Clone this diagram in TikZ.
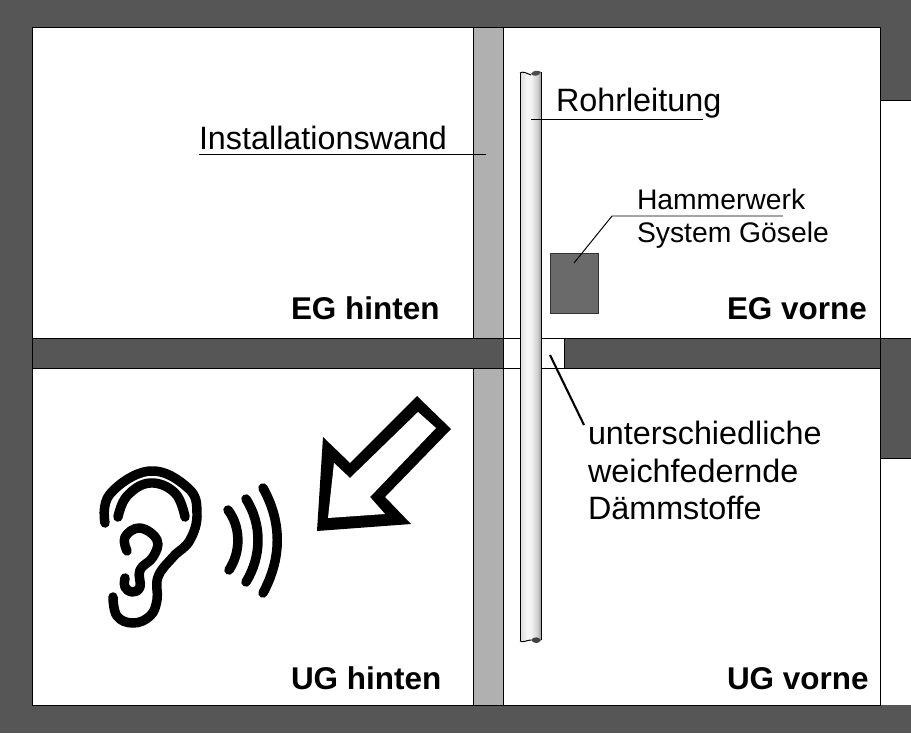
\documentclass[tikz,border=0pt]{standalone}
\usepackage{fontspec}
\setmainfont{Liberation Sans}
\usepackage{amsmath,amssymb}
\definecolor{wallgray}{HTML}{565656}
\definecolor{instgray}{HTML}{B0B0B0}
\definecolor{boxgray}{HTML}{6A6A6A}
\pgfdeclarehorizontalshading{pipeshade}{100bp}{
  color(0bp)=(black!14); color(25bp)=(black!14); color(42bp)=(black!3);
  color(52bp)=(black!5); color(66bp)=(black!18); color(75bp)=(black!38); color(100bp)=(black!38)}
\tikzset{
  wall/.style = {fill=wallgray, draw=black, line width=0.55pt},
  inst/.style = {fill=instgray, draw=black, line width=0.55pt},
  edge/.style = {draw=black, line width=0.55pt},
  label/.style = {anchor=base west, inner sep=0pt, outer sep=0pt, font=\fontsize{18.4}{21}\selectfont},
  small/.style = {anchor=base west, inner sep=0pt, outer sep=0pt, font=\fontsize{16.1}{18}\selectfont},
  room/.style = {anchor=base west, inner sep=0pt, outer sep=0pt, font=\fontsize{17.9}{21}\selectfont\bfseries},
  leader/.style = {draw=black, line width=0.55pt},
  earline/.style = {draw=black, line width=5.4pt, line cap=round, line join=round}
}
\begin{document}
\begin{tikzpicture}[x=0.02cm,y=-0.02cm]
	\useasboundingbox (0,0) rectangle (911,733);
	\fill[white] (0,0) rectangle (911,733);

	% Installation wall
	\draw[inst] (473,27) rectangle (503,338);
	\draw[inst] (473,368) rectangle (503,705);

	% Outer walls
	\fill[wallgray] (0,0) rectangle (911,27);
	\fill[wallgray] (0,705) rectangle (911,733);
	\fill[wallgray] (0,0) rectangle (32,733);
	\fill[wallgray] (880,0) rectangle (911,100);
	\draw[edge] (880,338) -- (911,338);
	\draw[edge] (32,705) rectangle (880,27);
	\draw[edge] (880,100) -- (911,100);
	\draw[edge] (880,100) -- (880,705);

	% Ceiling
	\draw[wall] (32,338) rectangle (503,368);
	\draw[wall] (564,338) rectangle (880,368);
	\draw[edge] (503,338) -- (564,338);
	\draw[edge] (503,368) -- (564,368);
	\draw[wall] (880,338) rectangle (911,458);

	% Pipe
	\shade[shading=pipeshade]
		(520,73) .. controls (523,71) and (526,74) .. (531,75)
		-- (541,72) -- (541,640) -- (531,640)
		.. controls (527,640) and (523,643) .. (520,641) -- cycle;
	\draw[edge] (520,73) -- (520,641);
	\draw[edge] (541,72) -- (541,640);
	\draw[edge] (520,73) .. controls (523,71) and (526,73) .. (531,75);
	\fill[black!70!white] (531,74) .. controls (533,70) and (538,70) .. (541,72)
		.. controls (539,76) and (534,77) .. (531,74);
	\draw[edge] (520,641) .. controls (523,643) and (527,640) .. (531,640);
	\fill[black!75!white] (531,640) .. controls (534,636) and (539,637) .. (541,640)
		.. controls (539,644) and (534,644) .. (531,640);

	% Hammerwerk
	\node[draw=black!80!white, fill=boxgray, line width=0.6pt, minimum width=0.96cm,
		minimum height=1.2cm, inner sep=0pt, anchor=north west] (hammer) at (550,253) {};

	% Labels
	\node[label] (rohr) at (556,112) {Rohrleitung};
	\node[label] (inst) at (199,150) {Installationswand};
	\node[small] (hammer1) at (637,209) {Hammerwerk};
	\node[small] (hammer2) at (637,242) {System Gösele};
	\node[label] (daemm1) at (588,444) {unterschiedliche};
	\node[label] (daemm2) at (588,482) {weichfedernde};
	\node[label] (daemm3) at (588,519) {Dämmstoffe};
	\node[room] (eghinten) at (291,319) {EG hinten};
	\node[room] (egvorne) at (727,319) {EG vorne};
	\node[room] (ughinten) at (291,689) {UG hinten};
	\node[room] (ugvorne) at (727,689) {UG vorne};

	% Leaders
	\coordinate (rohrA) at (531,119);
	\coordinate (rohrB) at (703,119);
	\coordinate (instA) at (199,154);
	\coordinate (instB) at (486,154);
	\coordinate (hamA) at (574,263);
	\coordinate (hamB) at (612,216);
	\coordinate (hamC) at (783,216);
	\coordinate (daemA) at (550,355);
	\coordinate (daemB) at (584,425);
	\draw[leader] (rohrA) -- (rohrB);
	\draw[leader] (instA) -- (instB);
	\draw[leader] (hamA) -- (hamB) -- (hamC);
	\draw[black, line width=1.2pt] (daemA) -- (daemB);

	% Arrow
	\fill[black] (417,396) -- (451,429) -- (385,497) -- (411,524)
		-- (317,531) -- (323,437) -- (350,463) -- cycle;
	\fill[white] (418,412) -- (436,428) -- (370,497) -- (385,514)
		-- (328,518) -- (334,463) -- (350,478) -- cycle;

	% Ear
	\draw[earline] plot[smooth, tension=0.7] coordinates {(105,523) (110,494) (150,471) (188,488) (197,513)
		(190,540) (173,557) (158,577) (157,600) (150,616) (133,623) (117,616) (113,597)};
	\draw[earline] plot[smooth, tension=0.7] coordinates {(118,517) (127,496) (150,483) (175,493) (185,517)};
	\draw[earline] plot[smooth, tension=0.7] coordinates {(127,551) (125,537) (140,528) (157,540) (153,557)
		(140,570) (140,587) (132,592) (125,587) (125,578)};

	% Sound
	\draw[earline] (228,510) .. controls (241,527) and (241,552) .. (229,570);
	\draw[earline] (246,499) .. controls (262,524) and (262,556) .. (246,582);
	\draw[earline] (263,488) .. controls (282,522) and (282,558) .. (263,593);
\end{tikzpicture}
\end{document}
